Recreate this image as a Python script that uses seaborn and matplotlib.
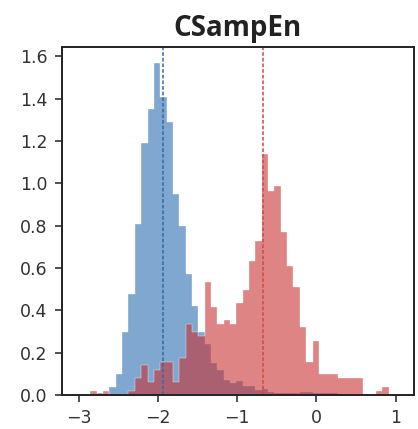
import numpy as np
import pandas as pd
import matplotlib
matplotlib.use("Agg")
import matplotlib.pyplot as plt
import seaborn as sns

# bins: width 0.08, first left edge at -2.85
bin_start = -2.85
bin_width = 0.08

blue_heights = [0, 0.01, 0, 0.04, 0.10, 0.30, 0.48, 0.81, 1.19, 1.35,
                1.57, 1.41, 1.29, 0.95, 0.80, 0.57, 0.42, 0.30, 0.24, 0.15,
                0.12, 0.07, 0.055, 0.065, 0.045, 0.045, 0.025, 0.03, 0.015, 0.01,
                0.01, 0.01, 0.01, 0.015, 0.015, 0.01, 0.01, 0.01, 0.01, 0,
                0, 0, 0, 0, 0, 0, 0]
red_heights = [0.02, 0, 0.02, 0, 0, 0, 0.02, 0.08, 0.14, 0.06,
               0.12, 0.157, 0.157, 0.063, 0.177, 0.336, 0.296, 0.279, 0.533, 0.414,
               0.336, 0.354, 0.336, 0.433, 0.496, 0.633, 0.729, 1.137, 0.966, 0.988,
               0.769, 0.611, 0.512, 0.32, 0.157, 0.255, 0.102, 0.102, 0.102, 0.079,
               0.079, 0.079, 0.079, 0, 0, 0.02, 0.039]

blue_line = -1.934
red_line = -0.677

n_bins = len(blue_heights)
edges = (bin_start + bin_width * np.arange(n_bins + 1)).tolist()
centers = [(a + b) / 2 for a, b in zip(edges[:-1], edges[1:])]

df_blue = pd.DataFrame({"x": centers, "h": blue_heights})
df_red = pd.DataFrame({"x": centers, "h": red_heights})

blue = "#2a6cb0"
red = "#c83232"

sns.set_style("ticks")
plt.rcParams["font.family"] = ["DejaVu Sans"]

fig = plt.figure(figsize=(4.18, 4.29), dpi=100)
ax = fig.add_axes([0.148, 0.079, 0.842, 0.8126])

sns.histplot(data=df_blue, x="x", weights="h", bins=edges, stat="count",
             element="step", color=blue, alpha=0.6, edgecolor="white",
             linewidth=0.25, ax=ax)
sns.histplot(data=df_red, x="x", weights="h", bins=edges, stat="count",
             element="step", color=red, alpha=0.6, edgecolor="white",
             linewidth=0.25, ax=ax)

ax.axvline(blue_line, color="#2f6aa8", ls=(0, (2.4, 1.3)), lw=1.1)
ax.axvline(red_line, color="#d04848", ls=(0, (2.4, 1.3)), lw=1.1)

ax.set_xlim(-3.21, 1.227)
ax.set_ylim(0, 1.647)
ax.set_xticks([-3, -2, -1, 0, 1])
ax.set_yticks([0.0, 0.2, 0.4, 0.6, 0.8, 1.0, 1.2, 1.4, 1.6])
ax.set_xlabel("")
ax.set_ylabel("")
ax.tick_params(labelsize=12.5, length=4.8, width=1.1, pad=5.5,
               colors="#222222", labelcolor="#333333")
for s in ax.spines.values():
    s.set_linewidth(1.4)
    s.set_color("#222222")
    s.set_visible(True)

ax.set_title("CSampEn", fontsize=20, fontweight="bold",
             family=["Open Sans", "DejaVu Sans"], pad=7.5, color="#222222")

fig.savefig("out.png", dpi=100)
